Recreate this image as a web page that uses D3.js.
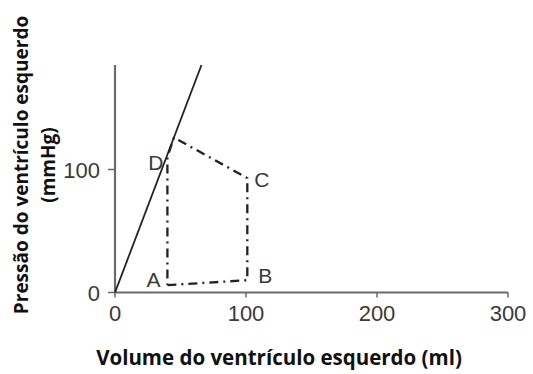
<!DOCTYPE html>
<html>
<head>
<meta charset="utf-8">
<script src="https://cdn.jsdelivr.net/npm/d3@7"></script>
<style>
  body { margin: 0; background: #fff; }
  svg { display: block; }
</style>
</head>
<body>
<svg id="chart" width="533" height="374"></svg>
<script>
// values (volume in ml, pressure in mmHg)
let xTicks = [0, 100, 200, 300];
let yTicks = [0, 100];
let esLineVol = [0, 66];
let esLinePress = [0, 185];
let loopVol = [40, 101, 101, 45, 40, 40];
let loopPress = [6, 10, 93, 126, 110, 6];
let pointNames = ["A", "B", "C", "D"];
let pointVol = [40, 101, 101, 40];
let pointPress = [6, 10, 93, 110];

let svg = d3.select("#chart");
let axisColor = "#6a6a6a";
let textColor = "#3a3a3a";

let x = d3.scaleLinear().domain([0, 300]).range([115, 508]);
let y = d3.scaleLinear().domain([0, 100]).range([292.5, 169.5]);
let yTop = 65;

// axes
svg.append("line")
  .attr("x1", x(0)).attr("x2", x(0))
  .attr("y1", yTop).attr("y2", y(0))
  .style("stroke", axisColor).style("stroke-width", 2.2);
svg.append("line")
  .attr("x1", x(0)).attr("x2", x(300))
  .attr("y1", y(0)).attr("y2", y(0))
  .style("stroke", axisColor).style("stroke-width", 2.2);

xTicks.forEach(function(t) {
  svg.append("line")
    .attr("x1", x(t)).attr("x2", x(t))
    .attr("y1", y(0)).attr("y2", y(0) + 5)
    .style("stroke", axisColor).style("stroke-width", 1.5);
  svg.append("text")
    .attr("x", x(t))
    .attr("y", y(0) + 28)
    .text(t)
    .style("font-family", "Liberation Sans, Arial")
    .style("font-size", 22)
    .style("fill", textColor)
    .style("text-anchor", "middle");
});

yTicks.forEach(function(t) {
  svg.append("line")
    .attr("x1", x(0) - 7).attr("x2", x(0))
    .attr("y1", y(t)).attr("y2", y(t))
    .style("stroke", axisColor).style("stroke-width", 1.5);
  svg.append("text")
    .attr("x", x(0) - 15)
    .attr("y", y(t) + 8)
    .text(t)
    .style("font-family", "Liberation Sans, Arial")
    .style("font-size", 22)
    .style("fill", textColor)
    .style("text-anchor", "end");
});

// end-systolic pressure line
let line = d3.line()
  .x(function(d) { return x(d[0]); })
  .y(function(d) { return y(d[1]); });

svg.append("path")
  .attr("d", line(d3.zip(esLineVol, esLinePress)))
  .style("fill", "none")
  .style("stroke", "#222")
  .style("stroke-width", 1.8);

// pressure-volume loop
svg.append("path")
  .attr("d", line(d3.zip(loopVol, loopPress)))
  .style("fill", "none")
  .style("stroke", "#222")
  .style("stroke-width", 2.3)
  .style("stroke-dasharray", "9,5,2,5");

// point labels
let labelDx = [-7, 11, 7, -4];
let labelDy = [2, 3, 9, 13];
pointNames.forEach(function(n, i) {
  svg.append("text")
    .attr("x", x(pointVol[i]) + labelDx[i])
    .attr("y", y(pointPress[i]) + labelDy[i])
    .text(n)
    .style("font-family", "Liberation Sans, Arial")
    .style("font-size", 21)
    .style("fill", textColor)
    .style("text-anchor", i == 0 || i == 3 ? "end" : "start");
});

// axis titles
svg.append("text")
  .attr("x", 279)
  .attr("y", 365)
  .text("Volume do ventrículo esquerdo (ml)")
  .style("font-family", "Open Sans")
  .style("font-weight", "bold")
  .style("font-size", 20.5)
  .style("fill", "#111")
  .style("text-anchor", "middle");

let yTitle = svg.append("g").attr("transform", "translate(0,165) rotate(-90)");
yTitle.append("text")
  .attr("x", 0)
  .attr("y", 28)
  .text("Pressão do ventrículo esquerdo")
  .style("font-family", "Open Sans")
  .style("font-weight", "bold")
  .style("font-size", 19)
  .style("fill", "#111")
  .style("text-anchor", "middle");
yTitle.append("text")
  .attr("x", 0)
  .attr("y", 55)
  .text("(mmHg)")
  .style("font-family", "Open Sans")
  .style("font-weight", "bold")
  .style("font-size", 19)
  .style("fill", "#111")
  .style("text-anchor", "middle");
</script>
</body>
</html>
